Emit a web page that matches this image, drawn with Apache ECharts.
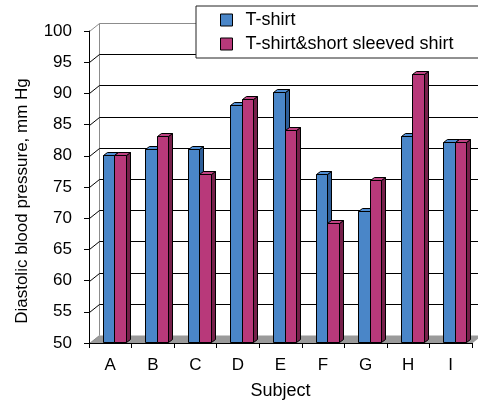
<!DOCTYPE html>
<html>
<head>
<meta charset="utf-8">
<script src="https://cdn.jsdelivr.net/npm/echarts@6/dist/echarts.min.js"></script>
<style>
  html, body { margin: 0; padding: 0; background: #fff; }
  #chart { width: 478px; height: 401px; }
</style>
</head>
<body>
<div id="chart"></div>
<script>
// Diastolic blood pressure per subject for two clothing conditions
const categories = ['A', 'B', 'C', 'D', 'E', 'F', 'G', 'H', 'I'];
const tshirt = [80, 81, 81, 88, 90, 77, 71, 83, 82];
const tshirtShortSleeved = [80, 83, 77, 89, 84, 69, 76, 93, 82];
const seriesNames = ['T-shirt', 'T-shirt&short sleeved shirt'];

// value axis range
const Y_MIN = 50, Y_MAX = 100, Y_STEP = 5;

// pseudo-3D geometry (pixels)
const WALL_DX = 10, WALL_DY = 8;     // depth of the back wall / floor
const BAR_DX = 4, BAR_DY = 1;        // bars sit slightly behind the front plane
const BAR_DEPTH_X = 4, BAR_DEPTH_Y = 3;

const FONT = '"Liberation Sans", Arial, sans-serif';

const palette = [
  { front: '#4A86C8', top: '#4F8DD2', side: '#2E5E98' },
  { front: '#B8397A', top: '#BE4282', side: '#76204A' }
];

const gridValues = [];
for (let v = Y_MIN; v <= Y_MAX; v += Y_STEP) gridValues.push(v);

function crisp(v) { return Math.round(v) + 0.5; }

// back wall, side wall and floor
function renderWalls(params, api) {
  const cs = params.coordSys;
  const v = api.value(1);
  const yF = crisp(api.coord([0, v])[1]);
  const x0 = crisp(cs.x);
  const x1 = cs.x + cs.width;
  const children = [];
  const edge = (v === Y_MAX || v === Y_MIN);
  const stroke = edge ? '#8c8c8c' : '#000';
  if (v === Y_MIN) {
    const yTop = crisp(api.coord([0, Y_MAX])[1]);
    children.push({
      type: 'polygon',
      shape: { points: [[x0, yF], [x1, yF], [x1 + WALL_DX, yF - WALL_DY], [x0 + WALL_DX, yF - WALL_DY]] },
      style: { fill: '#9a9a9a' }
    });
    children.push({
      type: 'line',
      shape: { x1: x0 + WALL_DX, y1: yTop - WALL_DY, x2: x0 + WALL_DX, y2: yF - WALL_DY },
      style: { stroke: '#8c8c8c', lineWidth: 1 }
    });
  } else {
    children.push({
      type: 'line',
      shape: { x1: x0 + WALL_DX, y1: yF - WALL_DY, x2: x1 + WALL_DX + 20, y2: yF - WALL_DY },
      style: { stroke: stroke, lineWidth: 1 }
    });
  }
  children.push({
    type: 'line',
    shape: { x1: x0, y1: yF, x2: x0 + WALL_DX, y2: yF - WALL_DY },
    style: { stroke: stroke, lineWidth: 1 }
  });
  return { type: 'group', children: children };
}

// one 3D bar; idx 0 sits left of the category centre, idx 1 right of it
function barRenderer(idx) {
  return function (params, api) {
    const i = api.value(0);
    const val = api.value(1);
    const base = api.coord([i, Y_MIN]);
    const band = api.size([1, 0])[0];
    const bw = band * 0.27;
    const cx = base[0] + BAR_DX;
    const xa = Math.round(idx === 0 ? cx - bw : cx) + 0.5;
    const xb = Math.round(idx === 0 ? cx : cx + bw) + 0.5;
    const top = Math.round(api.coord([i, val])[1] - BAR_DY) + 0.5;
    const bottom = Math.round(base[1] - BAR_DY) + 0.5;
    const c = palette[idx];
    const line = { stroke: '#000', lineWidth: 1, lineJoin: 'miter' };
    return {
      type: 'group',
      children: [
        {
          type: 'polygon',
          shape: { points: [[xb, top], [xb + BAR_DEPTH_X, top - BAR_DEPTH_Y], [xb + BAR_DEPTH_X, bottom - BAR_DEPTH_Y], [xb, bottom]] },
          style: Object.assign({ fill: c.side }, line)
        },
        {
          type: 'polygon',
          shape: { points: [[xa, top], [xb, top], [xb + BAR_DEPTH_X, top - BAR_DEPTH_Y], [xa + BAR_DEPTH_X, top - BAR_DEPTH_Y]] },
          style: Object.assign({ fill: c.top }, line)
        },
        {
          type: 'rect',
          shape: { x: xa, y: top, width: xb - xa, height: bottom - top },
          style: Object.assign({ fill: c.front }, line)
        }
      ]
    };
  };
}

const chart = echarts.init(document.getElementById('chart'), null, { renderer: 'canvas' });

chart.setOption({
  animation: false,
  backgroundColor: '#fff',
  textStyle: { fontFamily: FONT },
  grid: { left: 89, right: 6, top: 31, bottom: 58, containLabel: false, outerBoundsMode: 'none' },
  legend: {
    orient: 'vertical',
    left: 196,
    top: 6,
    align: 'left',
    padding: [5, 30, 5, 24],
    itemGap: 6,
    itemWidth: 12,
    itemHeight: 12,
    icon: 'rect',
    backgroundColor: '#fff',
    borderColor: '#222',
    borderWidth: 1,
    z: 10,
    itemStyle: { borderColor: '#000', borderWidth: 1 },
    textStyle: { fontSize: 18, color: '#000', fontFamily: FONT, padding: [0, 0, 0, 8] },
    data: seriesNames
  },
  xAxis: {
    type: 'category',
    data: categories,
    boundaryGap: true,
    name: 'Subject',
    nameLocation: 'middle',
    nameGap: 39,
    nameTextStyle: { fontSize: 18, color: '#000', fontFamily: FONT },
    axisLine: { lineStyle: { color: '#000', width: 1 } },
    axisTick: { show: true, length: 5, lineStyle: { color: '#000' } },
    axisLabel: { fontSize: 17, color: '#000', margin: 14, fontFamily: FONT },
    splitLine: { show: false },
    z: 5
  },
  yAxis: {
    type: 'value',
    min: Y_MIN,
    max: Y_MAX,
    interval: Y_STEP,
    name: 'Diastolic blood pressure, mm Hg',
    nameLocation: 'middle',
    nameGap: 58,
    nameTextStyle: { fontSize: 17, color: '#000', fontFamily: FONT, padding: [0, 28, 0, 0] },
    axisLine: { show: true, lineStyle: { color: '#000', width: 1 } },
    axisTick: { show: true, length: 5, lineStyle: { color: '#000' } },
    axisLabel: { fontSize: 17, color: '#000', margin: 17, fontFamily: FONT },
    splitLine: { show: false },
    z: 5
  },
  series: [
    {
      type: 'custom',
      name: 'walls',
      z: 1,
      silent: true,
      renderItem: renderWalls,
      data: gridValues.map(function (v) { return [0, v]; }),
      encode: { x: 0, y: 1 }
    },
    {
      type: 'custom',
      name: seriesNames[0],
      z: 3,
      itemStyle: { color: palette[0].front },
      renderItem: barRenderer(0),
      data: tshirt.map(function (v, i) { return [i, v]; }),
      encode: { x: 0, y: 1 }
    },
    {
      type: 'custom',
      name: seriesNames[1],
      z: 4,
      itemStyle: { color: palette[1].front },
      renderItem: barRenderer(1),
      data: tshirtShortSleeved.map(function (v, i) { return [i, v]; }),
      encode: { x: 0, y: 1 }
    }
  ]
});
</script>
</body>
</html>
